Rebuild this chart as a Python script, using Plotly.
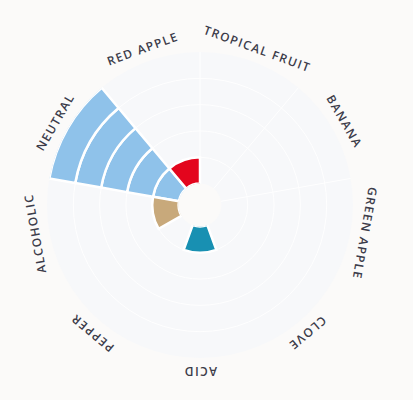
import math
import plotly.graph_objects as go

# flavour profile, listed clockwise starting at the upper-left sector
categories = ["NEUTRAL", "RED APPLE", "TROPICAL FRUIT", "BANANA", "GREEN APPLE",
              "CLOVE", "ACID", "PEPPER", "ALCOHOLIC"]
scores = [5, 1, 0, 0, 0, 0, 1, 0, 1]
colors = ["#8fc2ea", "#e3051d", "#f2a541", "#f5d547", "#9acd5a",
          "#8a5a44", "#1890b2", "#5b5b5b", "#c8a97b"]
max_score = 5

BG = "#fbfaf9"

# page body keeps its 8px margin, so the figure is a bit smaller and shifted
W, H = 405, 392
CX, CY, R = 192, 195, 153          # polar centre / radius in px (from bottom-left of figure)
LABEL_R = 167

step = 360 / len(categories)
start = 150
angles = [start - i * step for i in range(len(categories))]
boundaries = [a + step / 2 for a in angles]

fig = go.Figure()
for level in range(1, max_score + 1):
    idx = [i for i, s in enumerate(scores) if s >= level]
    if not idx:
        continue
    fig.add_trace(go.Barpolar(
        r=[1] * len(idx),
        base=[level - 1] * len(idx),
        theta=[angles[i] for i in idx],
        width=[step] * len(idx),
        marker=dict(color=[colors[i] for i in idx],
                    line=dict(color="white", width=2.5)),
        hovertext=[categories[i] for i in idx],
        showlegend=False,
    ))

# tangential labels around the disc
annotations = []
for name, a in zip(categories, angles):
    t = math.radians(a)
    rot = (90 - a + 180) % 360 - 180
    annotations.append(dict(
        x=(CX + LABEL_R * math.cos(t)) / W,
        y=(CY + LABEL_R * math.sin(t)) / H,
        xref="paper", yref="paper",
        text=f'<span style="letter-spacing:1.4px">{name}</span>',
        showarrow=False, textangle=rot,
        xanchor="center", yanchor="middle",
        font=dict(family="Open Sans", size=12, color="#3c3c4a", weight=600),
    ))

fig.update_layout(
    width=W, height=H,
    margin=dict(l=0, r=0, t=0, b=0),
    paper_bgcolor=BG,
    polar=dict(
        domain=dict(x=[(CX - R) / W, (CX + R) / W], y=[(CY - R) / H, (CY + R) / H]),
        bgcolor="#f7f8fa",
        hole=0.14,
        barmode="overlay",
        gridshape="circular",
        radialaxis=dict(range=[0, max_score], dtick=1, showticklabels=False,
                        ticks="", showline=False, gridcolor="white", gridwidth=1.3),
        angularaxis=dict(tickmode="array", tickvals=boundaries, showticklabels=False,
                         ticks="", showline=False, gridcolor="white", gridwidth=1.3,
                         direction="counterclockwise", rotation=0),
    ),
    annotations=annotations,
)

fig.write_html("out.html", post_script=f"document.body.style.background='{BG}';")
